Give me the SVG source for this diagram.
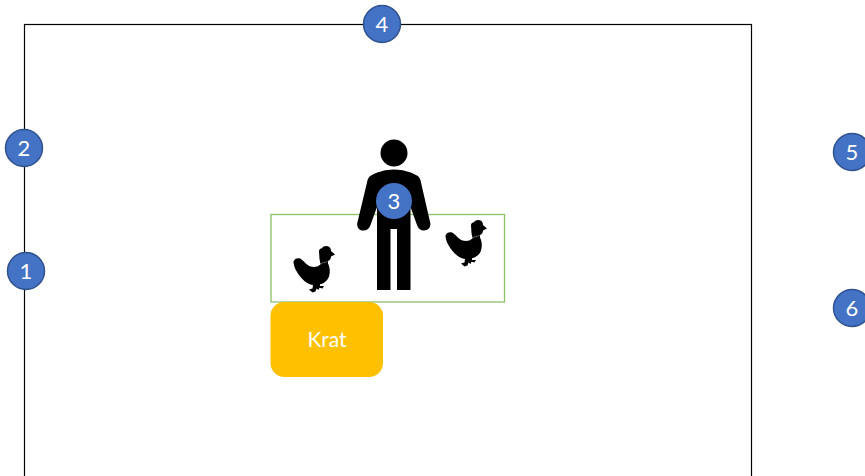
<svg xmlns="http://www.w3.org/2000/svg" width="865" height="476" viewBox="0 0 865 476">
<style>
.badge{fill:#4472c4;stroke:#2f528f;stroke-width:1.5}
.lbl{font-family:"Lato","Open Sans",sans-serif;fill:#fff;text-anchor:middle}
.num{font-size:22px}
</style>
<defs>
<g id="chicken">
<path fill="#000" d="M293.500 261.500C294.500 258.500 297.500 257.500 300 258.500C303.500 260 306 265 310.500 266.500C314 267.500 317.500 267 320.500 264.500L319.500 259L319 251.500C319 249 320.500 248.500 322 248.300C323 246 327 245.500 329 246.800C330.500 247.800 331 249.500 331 251L335 254.500L331 256.500C331 259 329.500 260.500 328 261L328 263.500C330 267.500 330.300 272 329 276.500C327.500 281 323.500 283.500 320 284.300L320 286L324 286L322.500 288.500L319.500 287.800L318.500 290L316.500 288.500L315.500 291.500L312.500 292.500L309 289.500L312.500 288.500L313 285C309 284.500 304 281.500 300.500 277C297 272.500 293.500 267 293.500 261.500Z"/>
<path fill="none" stroke="#fff" stroke-width=".7" stroke-dasharray="1 1" d="M320.500 263.500L328 261.500"/>
</g>
</defs>
<g id="connectors"><rect x="24.500" y="24.500" width="727" height="470" fill="none" stroke="#000" stroke-width="1.200"/></g>
<g id="box"><rect x="271" y="214.500" width="233.500" height="87.500" fill="none" stroke="#8cc168" stroke-width="1.300"/></g>
<g id="krat"><rect x="270.500" y="302" width="112.500" height="75" rx="14" fill="#ffc000"/><text class="lbl" x="327" y="347" font-size="21">Krat</text></g>
<g id="person">
<circle cx="394" cy="153" r="13.500" fill="#000"/>
<path fill="#000" d="M394 169.500C385 169.500 376 172.500 371 175.500C368.500 177 367.500 179.500 367 182.500L357.300 223C356.500 227.500 359.500 230.500 363.500 230.500C367 230.500 369.500 228.500 370.500 225L377 207V290H390.500V229H397V290H410.500V207L417 225C418 228.500 420.500 230.500 424 230.500C428 230.500 431 227.500 430.300 223L421 182.500C420.500 179.500 419.500 177 417 175.500C412 172.500 403 169.500 394 169.500Z"/>
</g>
<g id="chicken-left"><use href="#chicken"/></g>
<g id="chicken-right"><use href="#chicken" x="152" y="-26"/></g>
<g id="n1"><circle class="badge" cx="26" cy="271" r="18.500"/><text class="lbl num" x="26" y="279">1</text></g>
<g id="n2"><circle class="badge" cx="24" cy="148" r="18.500"/><text class="lbl num" x="24" y="156">2</text></g>
<g id="n3"><circle class="badge" cx="394" cy="201" r="18" style="stroke:none"/><text class="lbl num" x="394" y="209">3</text></g>
<g id="n4"><circle class="badge" cx="382" cy="24" r="18.500"/><text class="lbl num" x="382" y="32">4</text></g>
<g id="n5"><circle class="badge" cx="852" cy="152" r="18.500"/><text class="lbl num" x="852" y="160">5</text></g>
<g id="n6"><circle class="badge" cx="852" cy="308" r="18.500"/><text class="lbl num" x="852" y="316">6</text></g>
</svg>
